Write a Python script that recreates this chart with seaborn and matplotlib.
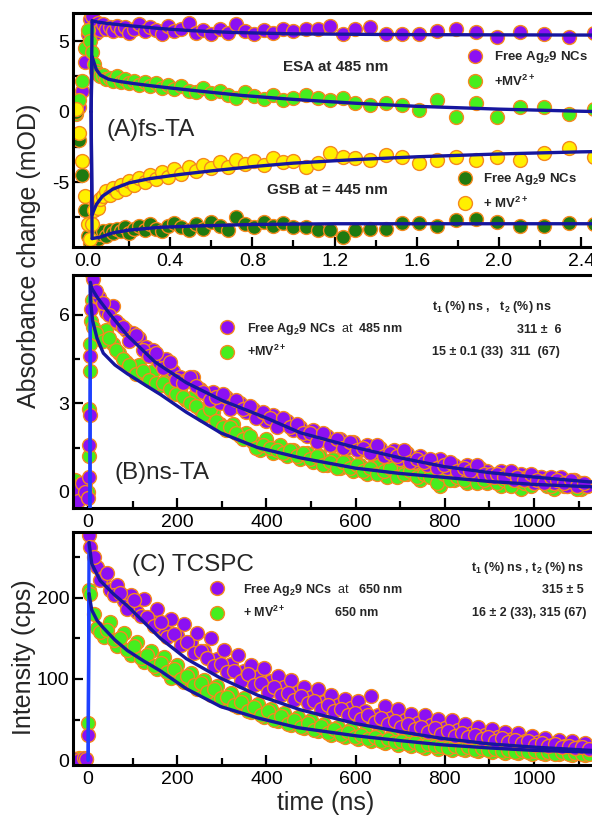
import numpy as np
import pandas as pd
import seaborn as sns
import matplotlib.pyplot as plt
from matplotlib.lines import Line2D
from matplotlib.ticker import MultipleLocator

# ---------------- (A) fs-TA data ----------------
t_fs = [-0.06, -0.045, -0.03, -0.015, 0.0, 0.01, 0.02,
        0.03, 0.04, 0.05, 0.06, 0.075, 0.09, 0.105, 0.12, 0.14, 0.16,
        0.18, 0.2, 0.225, 0.25, 0.275, 0.3, 0.33, 0.36, 0.39, 0.42,
        0.455, 0.49, 0.525, 0.56, 0.6, 0.64, 0.68, 0.72, 0.765, 0.81,
        0.855, 0.9, 0.95, 1.0,
        1.06, 1.12, 1.18, 1.24, 1.30, 1.37, 1.45, 1.53, 1.61, 1.70,
        1.79, 1.89, 1.99, 2.10, 2.22, 2.34, 2.46, 2.58]
esa_free = [0.1, 0.3, 1.5, 3.5, 5.5, 6.6, 6.8,
            6.1, 5.6, 6.3, 5.8, 6.2, 5.9, 6.0, 5.7, 6.1, 5.8,
            6.0, 5.6, 5.9, 6.2, 5.7, 6.0, 5.8, 5.5, 6.1, 5.7,
            5.9, 6.3, 5.6, 5.8, 5.5, 5.9, 5.6, 6.2, 5.7, 5.5,
            5.8, 5.6, 5.9, 5.7,
            5.86, 5.86, 6.07, 5.5, 5.86, 6.0, 5.5, 5.5, 5.5, 5.7,
            5.86, 5.64, 5.3, 5.64, 5.5, 5.3, 5.6, 5.4]
esa_mv = [-0.2, 0.8, 2.2, 4.5, 5.8, 5.0, 4.2,
          3.4, 2.9, 2.7, 2.5, 2.6, 2.3, 2.4, 2.2, 2.5, 2.1,
          2.3, 2.0, 2.2, 1.9, 2.1, 1.8, 2.0, 1.7, 1.9, 1.6,
          1.8, 1.5, 1.4, 1.7, 1.3, 1.5, 1.2, 1.0, 1.4, 1.1,
          0.9, 1.2, 0.8, 1.0,
          1.2, 1.0, 0.85, 1.0, 0.65, 0.5, 0.65, 0.5, 0.15, 0.85,
          -0.35, 0.65, -0.35, 0.35, 0.35, -0.2, 0.2, 0.0]
gsb_mv = [0.2, -1.5, -3.5, -6.0, -8.0, -9.0, -8.0,
          -7.0, -6.5, -6.8, -6.2, -6.0, -5.6, -5.9, -5.4, -5.7, -5.2,
          -5.5, -4.9, -5.2, -4.7, -5.0, -4.5, -4.8, -4.3, -4.6, -4.1,
          -4.4, -3.9, -4.2, -3.8, -4.0, -3.6, -3.9, -3.4, -3.7, -3.5,
          -3.8, -3.3, -3.6, -3.5,
          -3.9, -3.65, -2.95, -3.2, -3.3, -3.4, -3.1, -3.2, -3.65, -3.4,
          -3.2, -3.4, -3.2, -3.4, -2.95, -2.6, -3.2, -2.9]
gsb_free = [0.0, -2.0, -4.5, -7.0, -8.8, -9.3, -9.0,
            -8.9, -8.6, -9.0, -8.7, -8.5, -8.8, -8.4, -8.6, -8.3, -8.5,
            -8.2, -8.6, -8.3, -8.1, -8.4, -8.0, -8.3, -8.5, -8.1, -7.9,
            -8.2, -8.4, -8.0, -8.3, -7.8, -8.1, -8.4, -7.5, -8.0, -8.2,
            -7.8, -8.1, -7.9, -8.2,
            -8.2, -8.4, -8.4, -8.9, -8.4, -8.3, -8.3, -7.9, -7.9, -8.1,
            -7.7, -7.6, -7.85, -8.1, -8.1, -7.9, -8.0, -7.9]

fit_esa_free_t = [0.015, 0.02, 0.05, 0.1, 0.2, 0.35, 0.5, 0.7, 1.0, 1.5, 2.0, 2.6]
fit_esa_free = [0.0, 6.45, 6.35, 6.25, 6.1, 5.9, 5.75, 5.62, 5.52, 5.47, 5.45, 5.43]
fit_esa_mv_t = [0.015, 0.02, 0.04, 0.06, 0.1, 0.15, 0.22, 0.3, 0.4, 0.55, 0.75, 1.0,
                1.3, 1.6, 2.0, 2.4, 2.6]
fit_esa_mv = [0.0, 3.9, 3.0, 2.6, 2.3, 2.15, 2.0, 1.85, 1.68, 1.45, 1.15, 0.87,
              0.6, 0.38, 0.18, 0.03, -0.03]
fit_gsb_mv_t = [0.015, 0.02, 0.04, 0.07, 0.12, 0.2, 0.3, 0.45, 0.6, 0.8, 1.0, 1.3,
                1.6, 2.0, 2.4, 2.6]
fit_gsb_mv = [0.0, -7.3, -6.6, -6.0, -5.5, -5.05, -4.75, -4.45, -4.2, -3.9, -3.65, -3.4,
              -3.2, -3.0, -2.85, -2.8]
fit_gsb_free_t = [0.015, 0.02, 0.06, 0.12, 0.2, 0.35, 0.55, 0.8, 1.2, 2.0, 2.6]
fit_gsb_free = [0.0, -9.0, -8.9, -8.6, -8.4, -8.2, -8.1, -8.0, -7.95, -7.95, -7.95]

# ---------------- (B) ns-TA data ----------------
t_ns_b = [-30, -22, -14, -6, 0, 2, 3, 4, 5, 6, 8,
          10, 25, 40, 55, 70, 85, 100, 115, 130, 145,
          160, 175, 190, 205, 220, 235, 250, 265, 280, 295,
          310, 325, 340, 355, 370, 385, 400, 415, 430, 445,
          460, 475, 490, 505, 520, 535, 550, 565, 580, 595,
          610, 625, 640, 655, 670, 685, 700, 715, 730, 745,
          760, 775, 790, 805, 820, 835, 850, 865, 880, 895,
          910, 925, 940, 955, 970, 985, 1000, 1015, 1030, 1045,
          1060, 1075, 1090, 1105, 1120]
nsta_free = [0.1, -0.3, 0.3, 0.0, -0.2, 0.5, 1.6, 2.6, 4.6, 6.2, 7.4,
             7.2, 6.6, 6.1, 6.3, 5.7, 5.5, 5.4, 5.2, 4.9, 4.8,
             4.4, 4.5, 4.1, 3.9, 3.8, 3.9, 3.5, 3.3, 3.4, 3.0,
             3.2, 2.9, 3.0, 2.7, 2.8, 2.6, 2.4, 2.6, 2.3, 2.4,
             2.1, 2.2, 1.9, 2.1, 1.8, 1.9, 1.6, 1.8, 1.5, 1.7,
             1.4, 1.6, 1.3, 1.5, 1.2, 1.4, 1.1, 1.3, 1.0, 1.2,
             0.9, 1.0, 1.1, 0.8, 0.9, 0.7, 0.9, 0.6, 0.8, 0.7,
             0.5, 0.7, 0.6, 0.4, 0.6, 0.5, 0.3, 0.5, 0.4, 0.3,
             0.5, 0.2, 0.4, 0.3, 0.2]
nsta_mv = [0.4, 0.2, -0.1, 0.3, 0.0, 1.2, 2.8, 4.1, 5.0, 5.8, 6.5,
           5.6, 5.3, 5.5, 5.0, 4.7, 4.4, 4.2, 4.3, 3.9, 4.1,
           3.6, 3.8, 3.4, 3.5, 3.1, 3.2, 2.8, 2.6, 2.7, 2.3,
           2.1, 2.3, 1.9, 2.0, 1.7, 1.4, 1.8, 1.3, 1.6, 1.2,
           1.4, 1.1, 1.3, 1.0, 1.2, 0.9, 1.1, 0.8, 1.0, 0.7,
           0.9, 0.6, 0.8, 1.0, 0.5, 0.7, 0.9, 0.6, 0.8, 0.4,
           0.7, 0.5, 0.2, 0.6, 0.4, 0.7, 0.3, 0.5, 0.6, 0.3,
           0.4, 0.2, 0.5, 0.3, 0.1, 0.4, 0.3, 0.5, 0.2, 0.1,
           0.3, 0.2, 0.4, 0.1, 0.2]
# in-between channels of the ns-TA traces
t_ns_b_mid = [17.5, 32.5, 47.5, 62.5, 77.5, 92.5, 107.5, 122.5, 137.5, 152.5,
              167.5, 182.5, 197.5, 212.5, 227.5, 242.5, 257.5, 272.5, 287.5, 302.5,
              317.5, 332.5, 347.5, 362.5, 377.5, 392.5, 407.5, 422.5, 437.5, 452.5,
              467.5, 482.5, 497.5, 512.5, 527.5, 542.5, 557.5, 572.5, 587.5, 602.5,
              617.5, 632.5, 647.5, 662.5, 677.5, 692.5, 707.5, 722.5, 737.5, 752.5,
              767.5, 782.5, 797.5, 812.5, 827.5, 842.5, 857.5, 872.5, 887.5, 902.5,
              917.5, 932.5, 947.5, 962.5, 977.5, 992.5, 1007.5, 1022.5, 1037.5, 1052.5,
              1067.5, 1082.5, 1097.5, 1112.5]
nsta_free_mid = [6.8, 6.4, 6.0, 5.8, 5.6, 5.1, 5.3, 4.8, 4.6, 4.7,
                 4.2, 4.4, 3.8, 3.7, 3.9, 3.6, 3.4, 3.1, 3.2, 3.3,
                 2.8, 3.1, 2.8, 2.9, 2.5, 2.7, 2.5, 2.2, 2.5, 2.2,
                 2.3, 2.0, 2.0, 1.7, 2.0, 1.6, 1.8, 1.5, 1.7, 1.4,
                 1.5, 1.3, 1.6, 1.2, 1.3, 1.2, 1.4, 1.0, 1.1, 1.0,
                 1.1, 0.8, 0.9, 1.0, 0.7, 0.8, 0.7, 0.9, 0.6, 0.6,
                 0.6, 0.5, 0.7, 0.5, 0.4, 0.6, 0.4, 0.3, 0.5, 0.4,
                 0.3, 0.4, 0.2, 0.3]
nsta_mv_mid = [5.4, 5.1, 5.2, 4.8, 4.5, 4.3, 4.0, 4.1, 3.8, 3.7,
               3.7, 3.5, 3.3, 3.2, 3.0, 2.9, 2.6, 2.8, 2.4, 2.2,
               2.2, 2.0, 1.8, 1.9, 1.5, 1.6, 1.5, 1.4, 1.3, 1.4,
               1.2, 1.3, 1.1, 1.2, 0.9, 1.0, 0.8, 1.0, 0.8, 0.9,
               0.7, 0.8, 0.6, 0.7, 0.8, 0.5, 0.6, 0.7, 0.5, 0.6,
               0.5, 0.3, 0.6, 0.4, 0.5, 0.4, 0.6, 0.3, 0.4, 0.5,
               0.3, 0.4, 0.2, 0.4, 0.3, 0.2, 0.4, 0.3, 0.2, 0.3,
               0.2, 0.3, 0.1, 0.3]
fit_b_free_t = [4, 5, 8, 20, 50, 88, 150, 220, 300, 400, 476, 600, 700, 800, 900, 1000, 1121, 1200]
fit_b_free = [-0.6, 7.1, 6.9, 6.6, 6.0, 5.3, 4.4, 3.7, 3.1, 2.5, 2.0, 1.5, 1.15, 0.85, 0.65, 0.5, 0.34, 0.28]
fit_b_mv_t = [4, 5, 6, 10, 20, 34, 60, 88, 130, 162, 220, 297, 380, 476, 600, 700, 791, 900, 1000, 1128, 1200]
fit_b_mv = [-0.6, 7.0, 6.4, 5.8, 5.2, 4.7, 4.3, 4.0, 3.6, 3.3, 2.7, 2.0, 1.5, 1.15, 0.8, 0.62, 0.5, 0.35, 0.25, 0.17, 0.14]

# ---------------- (C) TCSPC data ----------------
t_ns_c = [-30, -20, -10, -4, 0, 2,
          5, 20, 35, 50, 65, 80, 95, 110, 125, 140,
          155, 170, 185, 200, 215, 230, 245, 260, 275, 290,
          305, 320, 335, 350, 365, 380, 395, 410, 425, 440,
          455, 470, 485, 500, 515, 530, 545, 560, 575, 590,
          605, 620, 635, 650, 665, 680, 695, 710, 725, 740,
          755, 770, 785, 800, 815, 830, 845, 860, 875, 890,
          905, 920, 935, 950, 965, 980, 995, 1010, 1025, 1040,
          1055, 1070, 1085, 1100, 1115, 1130]
tcspc_free = [2, 0, 3, 1, 31, 277,
              262, 238, 226, 210, 216, 196, 204, 182, 198, 175,
              186, 162, 174, 154, 168, 146, 156, 134, 150, 124,
              136, 118, 130, 110, 117, 102, 114, 97, 104, 90,
              99, 84, 90, 78, 88, 72, 80, 68, 75, 64,
              73, 60, 79, 56, 67, 52, 63, 49, 57, 46,
              56, 43, 51, 40, 49, 37, 44, 34, 41, 31,
              38, 29, 35, 26, 33, 24, 30, 22, 27, 19,
              25, 17, 23, 16, 21, 14]
tcspc_mv = [1, 3, 0, 2, 46, 210,
            205, 163, 152, 170, 141, 156, 130, 146, 121, 134,
            112, 127, 101, 117, 96, 107, 88, 99, 80, 91,
            73, 83, 65, 77, 59, 69, 53, 63, 48, 58,
            43, 53, 39, 49, 36, 45, 31, 41, 29, 38,
            26, 35, 23, 31, 21, 29, 19, 27, 17, 25,
            15, 23, 14, 21, 13, 19, 12, 18, 11, 16,
            10, 15, 9, 14, 9, 13, 8, 12, 8, 11,
            7, 11, 6, 10, 6, 9]
# in-between channels of the TCSPC traces
t_ns_c_mid = [12.5, 27.5, 42.5, 57.5, 72.5, 87.5, 102.5, 117.5, 132.5, 147.5,
              162.5, 177.5, 192.5, 207.5, 222.5, 237.5, 252.5, 267.5, 282.5, 297.5,
              312.5, 327.5, 342.5, 357.5, 372.5, 387.5, 402.5, 417.5, 432.5, 447.5,
              462.5, 477.5, 492.5, 507.5, 522.5, 537.5, 552.5, 567.5, 582.5, 597.5,
              612.5, 627.5, 642.5, 657.5, 672.5, 687.5, 702.5, 717.5, 732.5, 747.5,
              762.5, 777.5, 792.5, 807.5, 822.5, 837.5, 852.5, 867.5, 882.5, 897.5,
              912.5, 927.5, 942.5, 957.5, 972.5, 987.5, 1002.5, 1017.5, 1032.5, 1047.5,
              1062.5, 1077.5, 1092.5, 1107.5, 1122.5]
tcspc_free_mid = [250, 222, 230, 203, 206, 186, 197, 178, 176, 165,
                  170, 152, 155, 142, 146, 132, 135, 126, 116, 118,
                  108, 110, 97, 106, 93, 95, 84, 90, 80, 83,
                  74, 79, 70, 73, 63, 68, 60, 63, 55, 58,
                  51, 55, 47, 52, 44, 48, 41, 45, 38, 41,
                  35, 39, 32, 36, 30, 34, 28, 31, 26, 29,
                  24, 27, 22, 25, 21, 23, 19, 21, 18, 20,
                  16, 18, 15, 16, 14]
tcspc_mv_mid = [180, 158, 160, 148, 150, 136, 140, 126, 130, 116,
                120, 108, 112, 100, 104, 92, 95, 84, 88, 76,
                78, 68, 72, 61, 66, 55, 60, 50, 54, 45,
                49, 41, 46, 37, 42, 34, 38, 31, 35, 28,
                31, 26, 28, 24, 26, 22, 24, 20, 22, 18,
                20, 17, 18, 15, 17, 14, 16, 13, 15, 12,
                14, 11, 13, 10, 12, 10, 11, 9, 10, 8,
                10, 8, 9, 7, 8]
fit_c_free_t = [0, 2, 8, 27, 60, 88, 125, 162, 220, 297, 380, 476, 600, 700, 791, 900, 1000, 1128, 1200]
fit_c_free = [0, 268, 242, 221, 203, 190, 170, 150, 125, 101, 80, 62, 45, 35, 27, 20, 16, 12, 10]
fit_c_mv_t = [0, 2, 8, 20, 34, 60, 88, 125, 162, 220, 297, 380, 470, 600, 700, 791, 900, 1000, 1128, 1200]
fit_c_mv = [0, 205, 185, 172, 163, 148, 135, 122, 110, 88, 66, 52, 40, 30, 24, 19, 15, 12, 10, 9]

PURPLE = '#8C10F2'
LGREEN = '#46EE1E'
YELLOW = '#FFF000'
DGREEN = '#1F7A10'
ORANGE = '#F5891E'
NAVY = '#16169E'
BRIGHT = '#1E40FF'

sns.set_style("ticks")
plt.rcParams['font.family'] = ['Liberation Sans', 'DejaVu Sans']
plt.rcParams['mathtext.fontset'] = 'custom'
plt.rcParams['mathtext.rm'] = 'Liberation Sans'
plt.rcParams['mathtext.bf'] = 'Liberation Sans:bold'
plt.rcParams['mathtext.it'] = 'Liberation Sans:italic'
plt.rcParams['axes.unicode_minus'] = False

W, H = 592, 818
fig = plt.figure(figsize=(W / 100, H / 100), dpi=100)


def box(left, top, right, bottom):
    return [left / W, 1 - bottom / H, (right - left) / W, (bottom - top) / H]


def fx(x):
    return x / W


def fy(y):
    return 1 - y / H


axA = fig.add_axes(box(73, 13, 612, 247))
axB = fig.add_axes(box(73, 275, 612, 508))
axC = fig.add_axes(box(73, 532, 612, 765))


def style(ax):
    for sp in ax.spines.values():
        sp.set_linewidth(2.2)
        sp.set_color('black')
    ax.tick_params(which='both', direction='in', width=1.6, labelsize=14, pad=4,
                   top=False, right=False, colors='black')
    ax.tick_params(axis='y', which='both', pad=2.5)
    ax.tick_params(which='major', length=7)
    ax.tick_params(which='minor', length=5)


def dots(ax, x, y, color):
    sns.scatterplot(x=x, y=y, ax=ax, s=100, color=color, edgecolor=ORANGE,
                    linewidth=1.0, legend=False, zorder=2)


def fit(ax, x, y, rise_color=NAVY):
    sns.lineplot(x=x[:2], y=y[:2], ax=ax, color=rise_color, lw=2.4, sort=False,
                 estimator=None, zorder=4)
    sns.lineplot(x=x[1:], y=y[1:], ax=ax, color=NAVY, lw=2.4, sort=False,
                 estimator=None, zorder=5)


def legend(ax, colors, labels, mx, my, pad, size=9.5, spacing=0.6):
    handles = [Line2D([], [], ls='', marker='o', ms=10, mfc=c, mec=ORANGE, mew=1.0)
               for c in colors]
    fs_px = size * 100 / 72
    return ax.legend(handles, labels, loc='center left',
                     bbox_to_anchor=(fx(mx - fs_px / 2), fy(my)),
                     bbox_transform=fig.transFigure, frameon=False, borderpad=0,
                     borderaxespad=0, handlelength=1.0, handletextpad=pad,
                     labelspacing=spacing, prop={'weight': 'bold', 'size': size})


def label(x, y, s, size=9, bold=True, ha='left'):
    fig.text(fx(x), fy(y), s, fontsize=size, fontweight='bold' if bold else 'normal',
             ha=ha, va='center')


# ---- panel A ----
dots(axA, t_fs, esa_free, PURPLE)
dots(axA, t_fs, esa_mv, LGREEN)
dots(axA, t_fs, gsb_free, DGREEN)
dots(axA, t_fs, gsb_mv, YELLOW)
fit(axA, fit_esa_free_t, fit_esa_free)
fit(axA, fit_esa_mv_t, fit_esa_mv)
fit(axA, fit_gsb_free_t, fit_gsb_free)
fit(axA, fit_gsb_mv_t, fit_gsb_mv)
axA.set_xlim(-0.073, 2.55)
axA.set_ylim(-9.6, 7.0)
axA.xaxis.set_major_locator(MultipleLocator(0.4))
axA.xaxis.set_minor_locator(MultipleLocator(0.2))
axA.yaxis.set_major_locator(MultipleLocator(5))
axA.yaxis.set_minor_locator(MultipleLocator(2.5))
axA.xaxis.set_major_formatter(plt.FormatStrFormatter('%.1f'))
style(axA)
legA1 = legend(axA, [PURPLE, LGREEN], ['Free Ag$_\\mathbf{2}$9 NCs', '+MV$^\\mathbf{2+}$'],
               475, 69, 0.94)
axA.add_artist(legA1)
legend(axA, [DGREEN, YELLOW], ['Free Ag$_\\mathbf{2}$9 NCs', '+ MV$^\\mathbf{2+}$'],
       465, 191, 0.9)
label(283, 67, 'ESA at 485 nm', size=11)
label(267, 190, 'GSB at = 445 nm', size=11)
label(106, 130, '(A)fs-TA', size=17.5, bold=False)

# ---- panel B ----
dots(axB, t_ns_b, nsta_mv, LGREEN)
dots(axB, t_ns_b_mid, nsta_mv_mid, LGREEN)
dots(axB, t_ns_b, nsta_free, PURPLE)
dots(axB, t_ns_b_mid, nsta_free_mid, PURPLE)
fit(axB, fit_b_mv_t, fit_b_mv, BRIGHT)
fit(axB, fit_b_free_t, fit_b_free, BRIGHT)
axB.set_xlim(-34, 1175)
axB.set_ylim(-0.55, 7.35)
axB.xaxis.set_major_locator(MultipleLocator(200))
axB.xaxis.set_minor_locator(MultipleLocator(100))
axB.yaxis.set_major_locator(MultipleLocator(3))
axB.yaxis.set_minor_locator(MultipleLocator(1.5))
style(axB)
legend(axB, [PURPLE, LGREEN],
       ['Free Ag$_\\mathbf{2}$9 NCs  $\\mathrm{at}$  485 nm', '+MV$^\\mathbf{2+}$'],
       227, 340, 1.1, size=9)
label(432, 307, 't$_\\mathbf{1}$ (%) ns ,   t$_\\mathbf{2}$ (%) ns')
label(517, 330, '311 \u00b1  6')
label(432, 352, '15 \u00b1 0.1 (33)  311  (67)')
label(115, 473, '(B)ns-TA', size=17.5, bold=False)

# ---- panel C ----
dots(axC, t_ns_c, tcspc_mv, LGREEN)
dots(axC, t_ns_c_mid, tcspc_mv_mid, LGREEN)
dots(axC, t_ns_c, tcspc_free, PURPLE)
dots(axC, t_ns_c_mid, tcspc_free_mid, PURPLE)
fit(axC, fit_c_mv_t, fit_c_mv, BRIGHT)
fit(axC, fit_c_free_t, fit_c_free, BRIGHT)
axC.set_xlim(-34, 1175)
axC.set_ylim(-6, 281)
axC.xaxis.set_major_locator(MultipleLocator(200))
axC.xaxis.set_minor_locator(MultipleLocator(100))
axC.yaxis.set_major_locator(MultipleLocator(100))
axC.yaxis.set_minor_locator(MultipleLocator(50))
style(axC)
legend(axC, [PURPLE, LGREEN],
       ['Free Ag$_\\mathbf{2}$9 NCs  $\\mathrm{at}$   650 nm', '+ MV$^\\mathbf{2+}$'],
       217, 601, 1.58, size=9)
label(335, 613, '650 nm')
label(584, 568, 't$_\\mathbf{1}$ (%) ns , t$_\\mathbf{2}$ (%) ns', ha='right')
label(584, 590, '315 \u00b1 5', ha='right')
label(586, 613, '16 \u00b1 2 (33), 315 (67)', ha='right')
label(132, 565, '(C) TCSPC', size=17.5, bold=False)

for ax in (axA, axB, axC):
    ax.set_xlabel('')
    ax.set_ylabel('')

fig.text(fx(29), fy(256), 'Absorbance change (mOD)', rotation=90, fontsize=18,
         ha='center', va='center')
fig.text(fx(24), fy(657), 'Intensity (cps)', rotation=90, fontsize=18,
         ha='center', va='center')
fig.text(fx(326), fy(803), 'time (ns)', fontsize=18, ha='center', va='center')

fig.savefig('out.png', dpi=100)
